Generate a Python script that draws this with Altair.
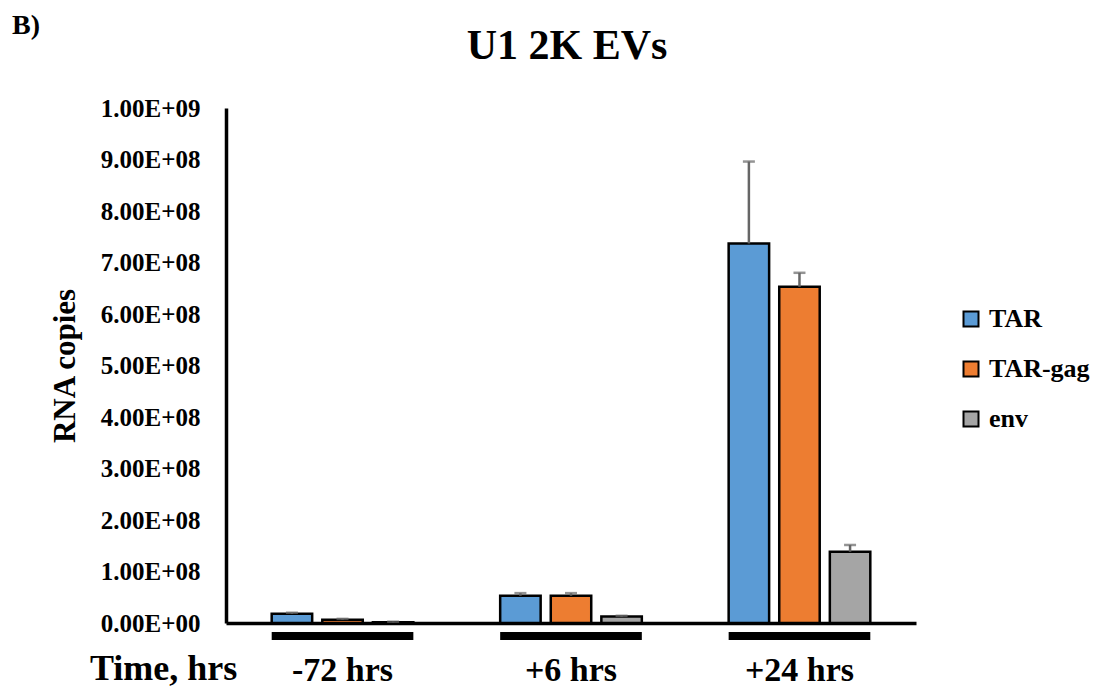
import altair as alt
import pandas as pd

groups = ["-72 hrs", "+6 hrs", "+24 hrs"]
series = ["TAR", "TAR-gag", "env"]
tar = [1.8e7, 5.3e7, 7.37e8]
tar_gag = [6.5e6, 5.3e7, 6.53e8]
env = [1.5e6, 1.25e7, 1.385e8]
tar_err = [2.0e6, 5.0e6, 1.59e8]
tar_gag_err = [1.5e6, 5.0e6, 2.7e7]
env_err = [1.0e6, 1.5e6, 1.3e7]
colors = ["#5B9BD5", "#ED7D31", "#A5A5A5"]
y_ticks = [0, 1e8, 2e8, 3e8, 4e8, 5e8, 6e8, 7e8, 8e8, 9e8, 1e9]
chart_title = "U1 2K EVs"
panel_text = "B)"
x_title = "Time, hrs"

rows = []
for s, vals, errs in zip(series, [tar, tar_gag, env], [tar_err, tar_gag_err, env_err]):
    for g, v, e in zip(groups, vals, errs):
        rows.append({"group": g, "series": s, "value": v, "upper": v + e})
df = pd.DataFrame(rows)

FONT = "Liberation Serif"
W, H = 690, 515

x_axis = alt.Axis(title=None, labelFont=FONT, labelFontSize=34, labelFontWeight="bold",
                  labelColor="black", labelPadding=57, labelBaseline="alphabetic",
                  ticks=False, tickSize=0,
                  domainColor="black", domainWidth=3.5, labelAngle=0, grid=False)
x_enc = alt.X("group:N", sort=groups,
              scale=alt.Scale(paddingInner=0.38, paddingOuter=0.2), axis=x_axis)
xo_enc = alt.XOffset("series:N", sort=series, scale=alt.Scale(paddingInner=0.2))

y_axis = alt.Axis(title="RNA copies", values=y_ticks,
                  labelExpr="replace(format(datum.value, '.2e'), 'e+', 'E+0')",
                  labelFont=FONT, labelFontSize=25, labelFontWeight="bold", labelColor="black",
                  labelPadding=26, ticks=False, tickSize=0, domainColor="black", domainWidth=3.5,
                  titleFont=FONT, titleFontSize=31, titleFontWeight="bold", titleColor="black",
                  titlePadding=19, grid=False)
y_scale = alt.Scale(domain=[0, 1e9], nice=False)

color_enc = alt.Color("series:N", sort=series,
                      scale=alt.Scale(domain=series, range=colors),
                      legend=alt.Legend(title=None, orient="none", legendX=732, legendY=198,
                                        symbolType="square", symbolSize=225,
                                        symbolStrokeColor="black", symbolStrokeWidth=2,
                                        symbolOpacity=1, labelFont=FONT, labelFontSize=26,
                                        labelFontWeight="bold", labelColor="black",
                                        rowPadding=24, labelOffset=5, padding=0,
                                        labelLimit=200))

base = alt.Chart(df)

bars = base.mark_bar(stroke="black", strokeWidth=2.5, opacity=1).encode(
    x=x_enc, xOffset=xo_enc,
    y=alt.Y("value:Q", scale=y_scale, axis=y_axis),
    color=color_enc,
)

err_rule = base.mark_rule(color="#666666", strokeWidth=2.5).encode(
    x=x_enc, xOffset=xo_enc,
    y=alt.Y("value:Q", scale=y_scale, axis=y_axis),
    y2="upper:Q",
)

err_cap = base.mark_tick(color="#666666", orient="horizontal", size=12, thickness=2.5).encode(
    x=x_enc, xOffset=xo_enc,
    y=alt.Y("upper:Q", scale=y_scale, axis=y_axis),
)

group_bars = alt.Chart(pd.DataFrame({"group": groups})).mark_bar(
    color="black", width=alt.RelativeBandSize(1.0)
).encode(
    x=x_enc,
    y=alt.value(H + 9),
    y2=alt.value(H + 17),
)

panel_label = alt.Chart(pd.DataFrame({"t": [panel_text]})).mark_text(
    font=FONT, fontSize=28, fontWeight="bold", color="black", align="left", baseline="alphabetic"
).encode(text="t:N", x=alt.value(-214), y=alt.value(-74))

title_label = alt.Chart(pd.DataFrame({"t": [chart_title]})).mark_text(
    font=FONT, fontSize=42, fontWeight="bold", color="black", align="center", baseline="alphabetic"
).encode(text="t:N", x=alt.value(341), y=alt.value(-49))

time_label = alt.Chart(pd.DataFrame({"t": [x_title]})).mark_text(
    font=FONT, fontSize=36, fontWeight="bold", color="black", align="left", baseline="alphabetic"
).encode(text="t:N", x=alt.value(-136), y=alt.value(H + 57))

chart = alt.layer(group_bars, bars, err_rule, err_cap, panel_label, title_label, time_label).properties(
    width=W, height=H,
    autosize=alt.AutoSizeParams(type="none"),
    padding={"left": 218, "top": 100, "right": 176, "bottom": 67},
).configure_view(stroke=None).configure_axis(grid=False)

chart.save("out.html", embed_options={"renderer": "svg", "actions": False})
